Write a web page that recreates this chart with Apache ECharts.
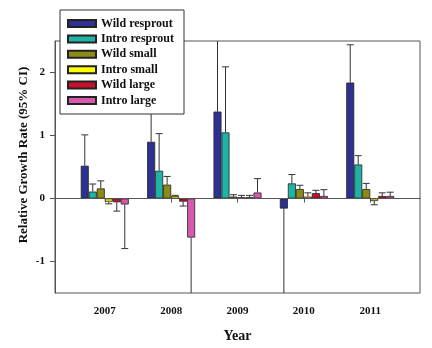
<!DOCTYPE html>
<html>
<head>
<meta charset="utf-8">
<script src="https://cdn.jsdelivr.net/npm/echarts@6/dist/echarts.min.js"></script>
<style>
  html, body { margin: 0; padding: 0; background: #fff; }
  #chart { width: 432px; height: 348px; }
</style>
</head>
<body>
<div id="chart"></div>
<script>
// data
const years = [2007, 2008, 2009, 2010, 2011];
const yTicks = [-1, 0, 1, 2];
const groupNames = ["Wild resprout", "Intro resprout", "Wild small", "Intro small", "Wild large", "Intro large"];

// mean relative growth rate per group
const wildResprout = [0.52, 0.90, 1.38, -0.16, 1.84];
const introResprout = [0.11, 0.44, 1.05, 0.24, 0.54];
const wildSmall = [0.16, 0.22, 0.03, 0.15, 0.15];
const introSmall = [-0.05, 0.04, 0.02, 0.03, -0.04];
const wildLarge = [-0.06, -0.05, 0.02, 0.085, 0.04];
const introLarge = [-0.095, -0.62, 0.095, 0.04, 0.04];

// 95% CI half widths (drawn one-sided, away from zero)
const wildResproutCI = [0.49, 1.7, 1.3, 1.5, 0.60];
const introResproutCI = [0.12, 0.59, 1.04, 0.14, 0.14];
const wildSmallCI = [0.12, 0.13, 0.03, 0.06, 0.09];
const introSmallCI = [0.035, 0.01, 0.03, 0.06, 0.06];
const wildLargeCI = [0.14, 0.07, 0.03, 0.045, 0.05];
const introLargeCI = [0.7, 1.0, 0.22, 0.10, 0.06];

const means = [wildResprout, introResprout, wildSmall, introSmall, wildLarge, introLarge];
const cis = [wildResproutCI, introResproutCI, wildSmallCI, introSmallCI, wildLargeCI, introLargeCI];
const colors = ["#2e3192", "#1fb3a6", "#8c8c14", "#ffff00", "#c8102e", "#d659ad"];

const BAR_W = 8;
const FONT = "Liberation Serif";

const chart = echarts.init(document.getElementById("chart"), null, { renderer: "canvas" });

const barSeries = groupNames.map((name, i) => ({
  name: name,
  type: "bar",
  barWidth: BAR_W,
  barGap: "0%",
  z: 3,
  itemStyle: { color: colors[i], borderColor: "#222", borderWidth: 0.8 },
  data: years.map((y, k) => [y, means[i][k]])
}));

// error bars as one custom series
const errData = [];
means.forEach((arr, i) => {
  arr.forEach((v, k) => {
    const end = v >= 0 ? v + cis[i][k] : v - cis[i][k];
    errData.push([years[k], v, end, i]);
  });
});

const errSeries = {
  type: "custom",
  clip: true,
  z: 2,
  encode: { x: 0, y: [1, 2] },
  data: errData,
  renderItem(params, api) {
    const p0 = api.coord([api.value(0), api.value(1)]);
    const p1 = api.coord([api.value(0), api.value(2)]);
    const x = p0[0] + (api.value(3) - 2.5) * BAR_W;
    const half = BAR_W / 2 - 0.5;
    const style = { stroke: "#333", lineWidth: 1 };
    return {
      type: "group",
      children: [
        { type: "line", shape: { x1: x, y1: p0[1], x2: x, y2: p1[1] }, style: style },
        { type: "line", shape: { x1: x - half, y1: p1[1], x2: x + half, y2: p1[1] }, style: style }
      ]
    };
  }
};

// zero line
barSeries[0].markLine = {
  silent: true,
  symbol: "none",
  label: { show: false },
  lineStyle: { color: "#555", width: 1, type: "solid" },
  data: [{ yAxis: 0 }]
};

chart.setOption({
  animation: false,
  backgroundColor: "#fff",
  textStyle: { fontFamily: FONT },
  grid: {
    left: 55, right: 12, top: 41, bottom: 52,
    show: true, borderColor: "#555", borderWidth: 1
  },
  legend: {
    orient: "vertical",
    left: 60, top: 10,
    padding: [7, 10, 7, 7],
    backgroundColor: "#fff",
    borderColor: "#333",
    borderWidth: 1,
    icon: "rect",
    itemWidth: 28,
    itemHeight: 7,
    itemGap: 2.4,
    z: 10,
    textStyle: { fontFamily: FONT, fontWeight: "bold", fontSize: 12, lineHeight: 13, color: "#111" },
    data: groupNames
  },
  xAxis: {
    type: "value",
    min: 2006.25,
    max: 2011.75,
    splitLine: { show: false },
    axisLine: { show: true, lineStyle: { color: "#555" } },
    axisTick: { show: true, length: 4, customValues: years, lineStyle: { color: "#555" } },
    axisLabel: {
      customValues: years, margin: 13,
      fontFamily: FONT, fontWeight: "bold", fontSize: 11, color: "#111",
      formatter: v => String(v)
    },
    name: "Year",
    nameLocation: "middle",
    nameGap: 36,
    nameTextStyle: { fontFamily: FONT, fontWeight: "bold", fontSize: 14, color: "#111" }
  },
  yAxis: {
    type: "value",
    min: -1.5,
    max: 2.5,
    splitLine: { show: false },
    axisLine: { show: true, lineStyle: { color: "#555" } },
    axisTick: { show: true, length: 5, customValues: yTicks, lineStyle: { color: "#555" } },
    axisLabel: {
      customValues: yTicks, margin: 10,
      fontFamily: FONT, fontWeight: "bold", fontSize: 11, color: "#111"
    }
  },
  graphic: [{
    type: "text",
    x: 24, y: 155,
    rotation: Math.PI / 2,
    style: {
      text: "Relative Growth Rate (95% CI)",
      fontFamily: FONT, fontWeight: "bold", fontSize: 13, fill: "#111",
      align: "center", verticalAlign: "middle"
    }
  }],
  series: barSeries.concat([errSeries])
});
</script>
</body>
</html>
